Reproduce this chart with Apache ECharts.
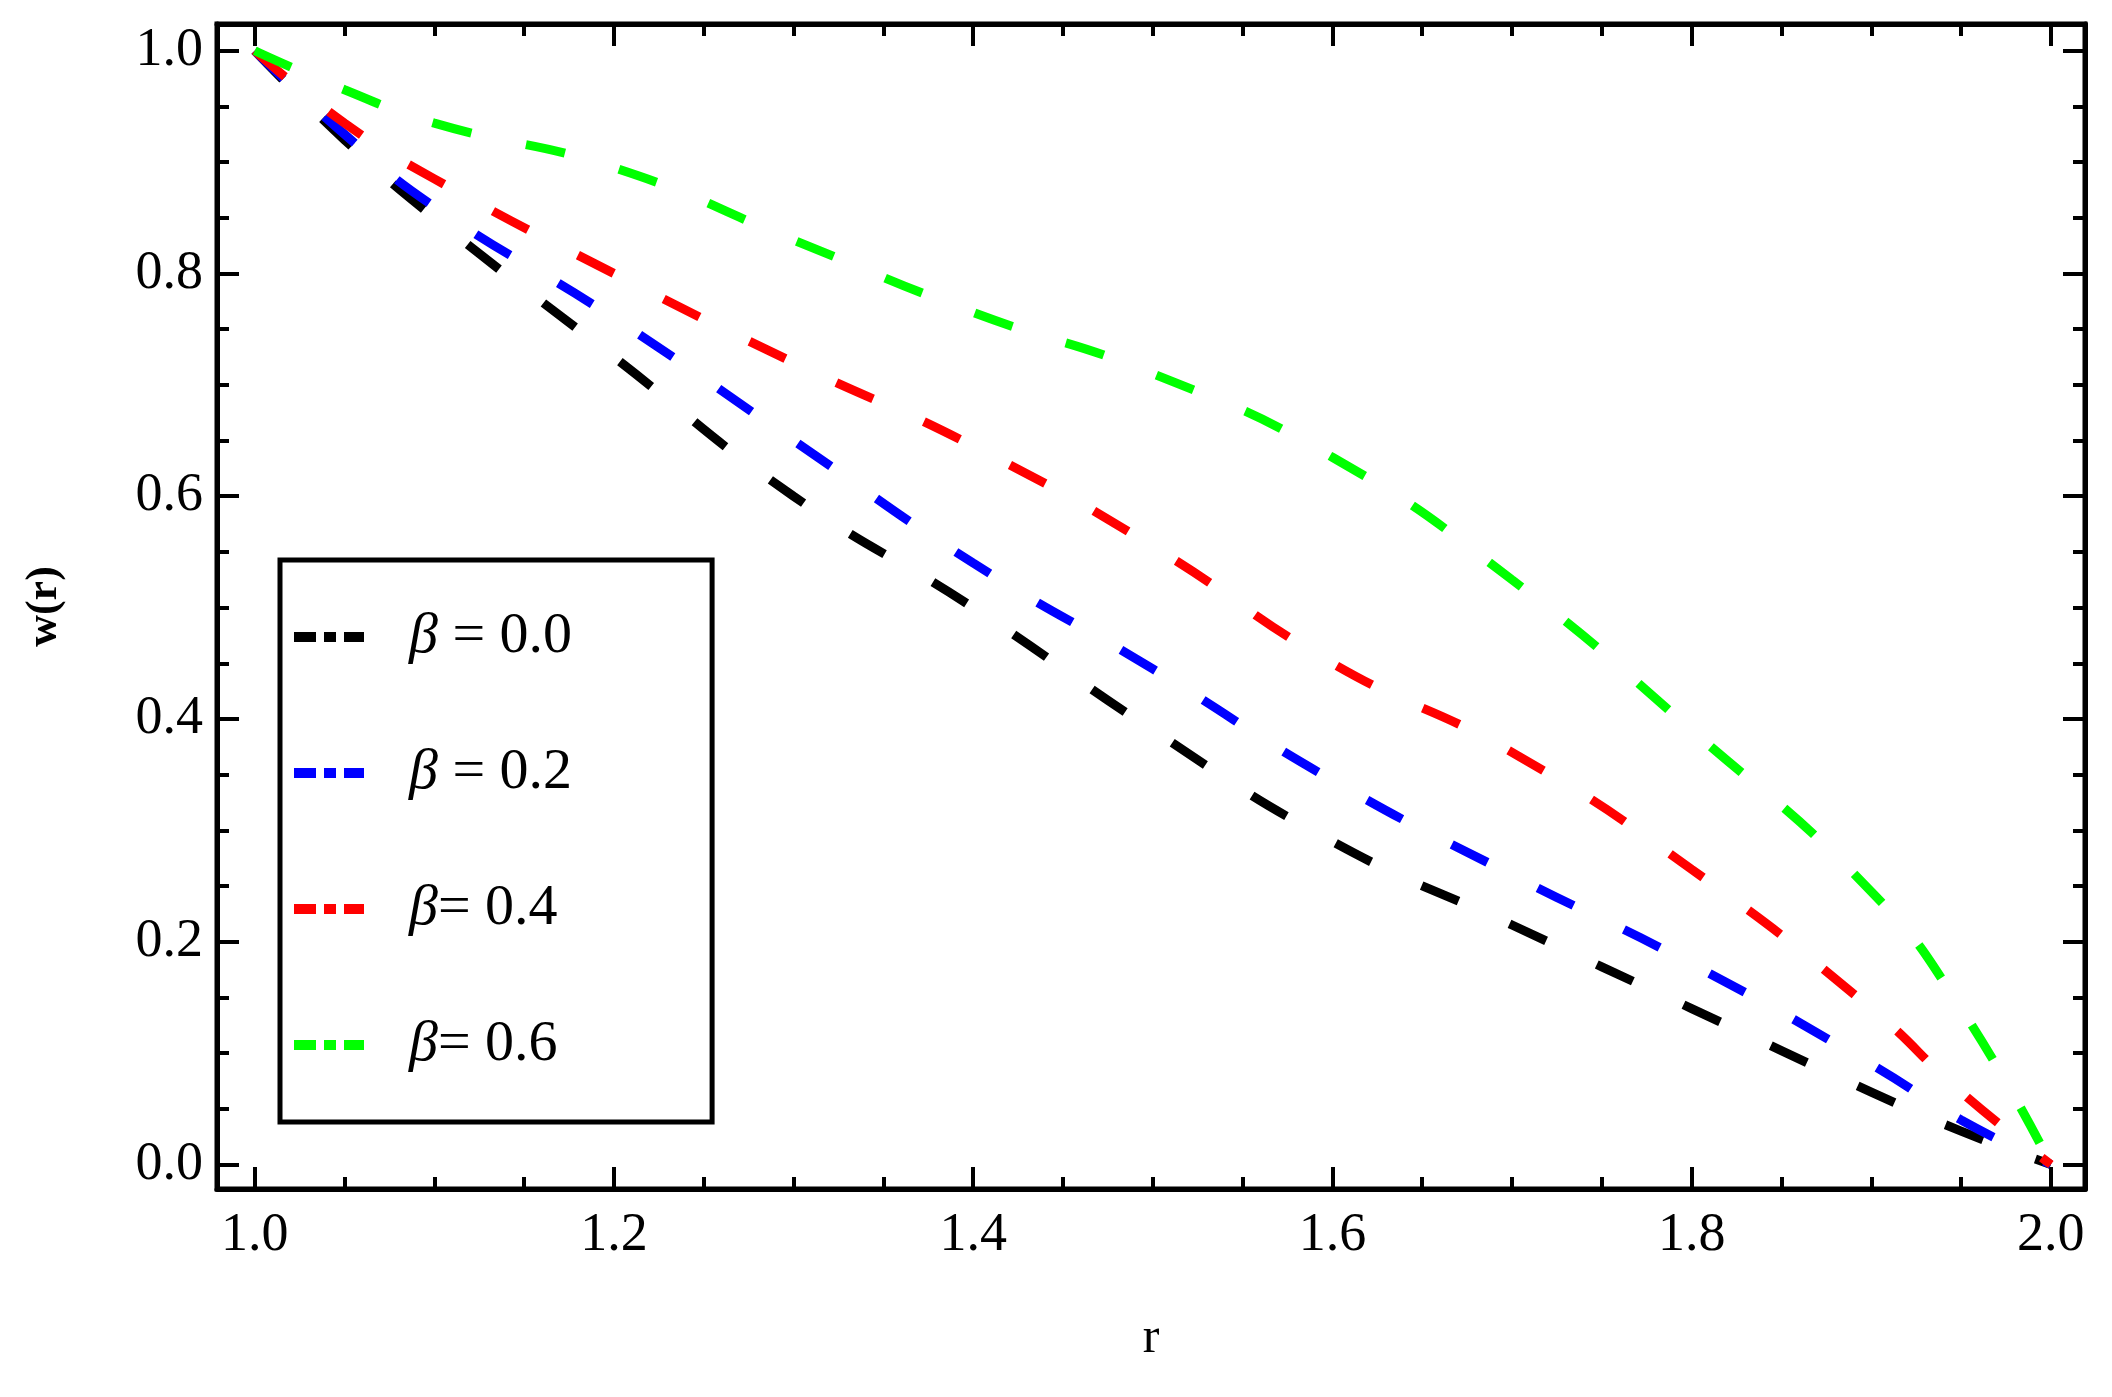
<!DOCTYPE html>
<html><head><meta charset="utf-8">
<script src="https://cdn.jsdelivr.net/npm/echarts@6/dist/echarts.min.js"></script>
<style>html,body{margin:0;padding:0;background:#fff}#c{width:2112px;height:1397px}</style>
</head><body><div id="c"></div>
<script>
const rValues = [1.0, 1.05, 1.1, 1.2, 1.3, 1.4, 1.5, 1.6, 1.7, 1.8, 1.9, 1.95, 2.0];
const beta00 = [1.0, 0.92, 0.85, 0.725, 0.6, 0.5, 0.39, 0.29, 0.215, 0.14, 0.065, 0.03, 0.0];
const beta02 = [1.0, 0.925, 0.86, 0.76, 0.65, 0.54, 0.445, 0.345, 0.26, 0.18, 0.09, 0.04, 0.0];
const beta04 = [1.0, 0.935, 0.885, 0.8, 0.72, 0.645, 0.555, 0.45, 0.37, 0.265, 0.14, 0.065, 0.0];
const beta06 = [1.0, 0.965, 0.935, 0.895, 0.83, 0.765, 0.71, 0.635, 0.525, 0.39, 0.245, 0.14, 0.0];
const seriesNames = ['β = 0.0', 'β = 0.2', 'β= 0.4', 'β= 0.6'];
const colors = ['#000000', '#0000ff', '#ff0000', '#00ff00'];
const xMajor = [1.0, 1.2, 1.4, 1.6, 1.8, 2.0];
const yMajor = [0.0, 0.2, 0.4, 0.6, 0.8, 1.0];
const xMinor = [1.05,1.1,1.15,1.25,1.3,1.35,1.45,1.5,1.55,1.65,1.7,1.75,1.85,1.9,1.95];
const yMinor = [0.05,0.1,0.15,0.25,0.3,0.35,0.45,0.5,0.55,0.65,0.7,0.75,0.85,0.9,0.95];

const data = [beta00, beta02, beta04, beta06];
const font = '"Liberation Serif","DejaVu Serif",serif';
const XMIN = 0.979, XMAX = 2.019, YMIN = -0.022, YMAX = 1.024;
function xAx(pos, vals, len, labels, line) {
  return {type:'value', position:pos, min:XMIN, max:XMAX,
    axisLine:{show:line, onZero:false, lineStyle:{color:'#000', width:5}},
    splitLine:{show:false},
    axisTick:{show:true, inside:true, length:len, customValues:vals, lineStyle:{color:'#000', width:4}},
    axisLabel:{show:labels, customValues:vals, formatter:v=>v.toFixed(1), color:'#000', fontFamily:font, fontSize:54, margin:20},
    name: labels ? 'r' : '', nameLocation:'middle', nameGap:125, nameTextStyle:{fontFamily:font, fontSize:50, color:'#000'}};
}
function yAx(pos, vals, len, labels, line) {
  return {type:'value', position:pos, min:YMIN, max:YMAX,
    axisLine:{show:line, onZero:false, lineStyle:{color:'#000', width:5}},
    splitLine:{show:false},
    axisTick:{show:true, inside:true, length:len, customValues:vals, lineStyle:{color:'#000', width:4}},
    axisLabel:{show:labels, customValues:vals, formatter:v=>v.toFixed(1), color:'#000', fontFamily:font, fontSize:54, margin:14},
    name: labels ? 'w(r)' : '', nameLocation:'middle', nameGap:150, nameRotate:90, nameTextStyle:{fontFamily:font, fontSize:44, color:'#000', fontWeight:'bold'}};
}
const chart = echarts.init(document.getElementById('c'));
chart.setOption({
  animation:false,
  grid:{left:217, right:27, top:24, bottom:208, show:true, borderColor:'#000', borderWidth:5},
  xAxis:[xAx('bottom', xMajor, 22, true, true), xAx('bottom', xMinor, 12, false, false),
         xAx('top', xMajor, 22, false, true), xAx('top', xMinor, 12, false, false)],
  yAxis:[yAx('left', yMajor, 22, true, true), yAx('left', yMinor, 12, false, false),
         yAx('right', yMajor, 22, false, true), yAx('right', yMinor, 12, false, false)],
  legend:{orient:'vertical', left:280, top:560, width:440, height:556,
    padding:[48, 140, 48, 14], itemGap:78, itemWidth:70, itemHeight:10,
    borderColor:'#000', borderWidth:5, backgroundColor:'#fff',
    data: seriesNames,
    formatter: n => '{b|β}{n|' + n.slice(1) + '}',
    textStyle:{fontFamily:font, fontSize:58, color:'#000', padding:[0,0,0,40],
      rich:{b:{fontFamily:font, fontSize:58, fontStyle:'italic', color:'#000'}, n:{fontFamily:font, fontSize:58, color:'#000'}}},
    icon:'path://M0,0H22V10H0Z M30,0H42V10H30Z M50,0H70V10H50Z'},
  series: seriesNames.map((n,i)=>({
    name:n, type:'line', smooth:true, showSymbol:false, xAxisIndex:0, yAxisIndex:0,
    data: rValues.map((r,j)=>[r, data[i][j]]),
    itemStyle:{color:colors[i]},
    lineStyle:{color:colors[i], width:9, type:[40,56]}
  }))
});
</script></body></html>
